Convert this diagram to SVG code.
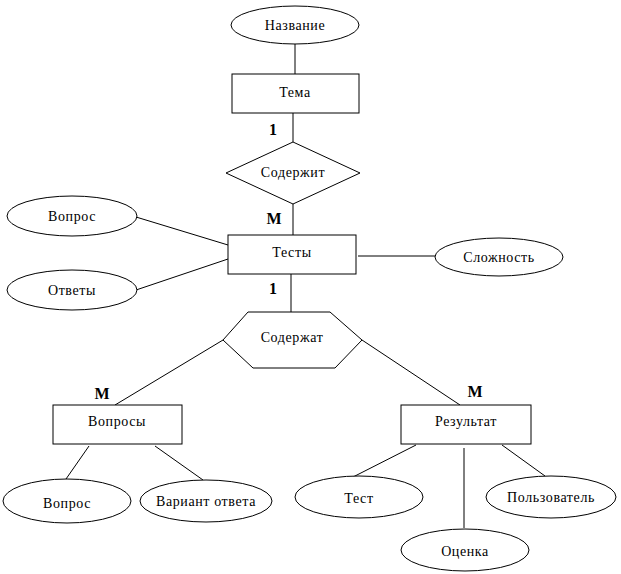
<svg xmlns="http://www.w3.org/2000/svg" width="621" height="574" viewBox="0 0 621 574">
<style>
.s{fill:#fff;stroke:#000;stroke-width:1}
.t{font-family:"Liberation Serif","DejaVu Serif",serif;font-size:14px;letter-spacing:0.6px;fill:#000;text-anchor:middle;dominant-baseline:central}
.c{font-family:"Liberation Serif","DejaVu Serif",serif;font-size:16px;font-weight:bold;fill:#000;text-anchor:middle;dominant-baseline:central}
.l{stroke:#000;stroke-width:1;fill:none}
</style>
<rect width="621" height="574" fill="#fff"/>
<g id="connectors">
<line class="l" x1="295" y1="44" x2="295" y2="74"/>
<line class="l" x1="293" y1="113" x2="293" y2="142"/>
<line class="l" x1="293" y1="204" x2="293" y2="235"/>
<line class="l" x1="136" y1="217" x2="228" y2="245"/>
<line class="l" x1="136" y1="290" x2="228" y2="259"/>
<line class="l" x1="358" y1="256" x2="435" y2="256"/>
<line class="l" x1="291" y1="274" x2="291" y2="312"/>
<line class="l" x1="223" y1="340" x2="115" y2="405"/>
<line class="l" x1="362" y1="340" x2="460" y2="405"/>
<line class="l" x1="89" y1="446" x2="66" y2="479"/>
<line class="l" x1="155" y1="446" x2="203" y2="480"/>
<line class="l" x1="416" y1="445" x2="353" y2="477"/>
<line class="l" x1="464" y1="448" x2="464" y2="528"/>
<line class="l" x1="502" y1="445" x2="545" y2="476"/>
<text class="c" x="273" y="129">1</text>
<text class="c" x="274" y="218">M</text>
<text class="c" x="273" y="288">1</text>
<text class="c" x="102" y="393">M</text>
<text class="c" x="475" y="391">M</text>
</g>
<g id="nazvanie"><ellipse class="s" cx="295" cy="25" rx="64" ry="19"/><text class="t" x="295" y="25">Название</text></g>
<g id="tema"><rect class="s" x="232" y="74" width="127" height="39"/><text class="t" x="295" y="92">Тема</text></g>
<g id="soderzhit"><polygon class="s" points="293,142 360,173 293,204 226,173"/><text class="t" x="293" y="172">Содержит</text></g>
<g id="testy"><rect class="s" x="228" y="235" width="128" height="39"/><text class="t" x="292" y="252">Тесты</text></g>
<g id="vopros1"><ellipse class="s" cx="72" cy="216" rx="65" ry="20"/><text class="t" x="72" y="216">Вопрос</text></g>
<g id="otvety"><ellipse class="s" cx="72" cy="290" rx="65" ry="20"/><text class="t" x="72" y="290">Ответы</text></g>
<g id="slozhnost"><ellipse class="s" cx="499" cy="257" rx="64" ry="19"/><text class="t" x="499" y="257">Сложность</text></g>
<g id="soderzhat"><polygon class="s" points="248,312 330,312 362,340 335,368 253,368 223,340"/><text class="t" x="292" y="337">Содержат</text></g>
<g id="voprosy"><rect class="s" x="53" y="405" width="129" height="39"/><text class="t" x="117" y="421">Вопросы</text></g>
<g id="rezultat"><rect class="s" x="401" y="405" width="130" height="39"/><text class="t" x="466" y="421">Результат</text></g>
<g id="vopros2"><ellipse class="s" cx="67" cy="501" rx="64" ry="22"/><text class="t" x="67" y="503">Вопрос</text></g>
<g id="variant"><ellipse class="s" cx="206" cy="501" rx="66" ry="21"/><text class="t" x="206" y="501">Вариант ответа</text></g>
<g id="test"><ellipse class="s" cx="359" cy="497" rx="64" ry="21"/><text class="t" x="359" y="498">Тест</text></g>
<g id="polzovatel"><ellipse class="s" cx="551" cy="497" rx="65" ry="21"/><text class="t" x="551" y="497">Пользователь</text></g>
<g id="otsenka"><ellipse class="s" cx="465" cy="550" rx="64" ry="21"/><text class="t" x="465" y="551">Оценка</text></g>
</svg>
